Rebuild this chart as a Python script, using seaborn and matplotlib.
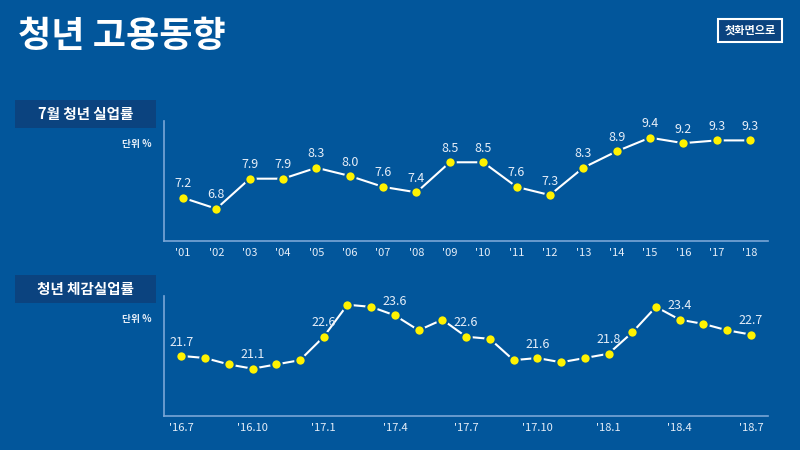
import pandas as pd
import seaborn as sns
import matplotlib.pyplot as plt
from matplotlib.patches import Rectangle

# values
years = ["'01", "'02", "'03", "'04", "'05", "'06", "'07", "'08", "'09",
         "'10", "'11", "'12", "'13", "'14", "'15", "'16", "'17", "'18"]
july_rate = [7.2, 6.8, 7.9, 7.9, 8.3, 8.0, 7.6, 7.4, 8.5,
             8.5, 7.6, 7.3, 8.3, 8.9, 9.4, 9.2, 9.3, 9.3]

months = ["'16.7", "'16.8", "'16.9", "'16.10", "'16.11", "'16.12", "'17.1",
          "'17.2", "'17.3", "'17.4", "'17.5", "'17.6", "'17.7", "'17.8",
          "'17.9", "'17.10", "'17.11", "'17.12", "'18.1", "'18.2", "'18.3",
          "'18.4", "'18.5", "'18.6", "'18.7"]
felt_rate = [21.7, 21.6, 21.3, 21.1, 21.3, 21.5, 22.6, 24.1, 24.0, 23.6,
             22.9, 23.4, 22.6, 22.5, 21.5, 21.6, 21.4, 21.6, 21.8, 22.8,
             24.0, 23.4, 23.2, 22.9, 22.7]

bg = "#02569b"
box = "#0b437f"
spine = "#7aa6d6"
txt = "#e6eef8"
yellow = "#fff200"

sns.set_style("dark")
plt.rcParams['font.family'] = ['Noto Sans CJK KR', 'DejaVu Sans']

fig = plt.figure(figsize=(8, 4.5), dpi=100)
fig.patch.set_facecolor(bg)

# title and button
fig.text(18 / 800, 1 - 37 / 450, "청년 고용동향", color="white", fontsize=26,
         fontweight="bold", va="center", ha="left")
fig.patches.append(Rectangle((718 / 800, 1 - 42 / 450), 64 / 800, 23 / 450,
                             transform=fig.transFigure, facecolor=box,
                             edgecolor="white", linewidth=1.5))
fig.text(750 / 800, 1 - 30.5 / 450, "첫화면으로", color="white", fontsize=8,
         fontweight="bold", ha="center", va="center")


def panel(top_px, title, df, xcol, ycol, ticks, labelled, ylim, xlim):
    # section label box
    fig.patches.append(Rectangle((15 / 800, 1 - (top_px - 21 + 28) / 450), 141 / 800, 28 / 450,
                                 transform=fig.transFigure, facecolor=box, edgecolor="none"))
    fig.text(85.5 / 800, 1 - (top_px - 21 + 14) / 450, title, color="white",
             fontsize=10.5, fontweight="bold", ha="center", va="center")
    fig.text(152 / 800, 1 - (top_px + 23) / 450, "단위 %", color=txt, fontsize=7,
             fontweight="bold", ha="right", va="center")

    ax = fig.add_axes([164 / 800, 1 - (top_px + 120) / 450, 604 / 800, 120 / 450])
    ax.set_facecolor(bg)
    sns.lineplot(data=df, x="pos", y=ycol, ax=ax, color="white", linewidth=1.5,
                 marker="o", markersize=7.5, markerfacecolor=yellow,
                 markeredgecolor=bg, markeredgewidth=1.5)
    for i in labelled:
        ax.annotate(f"{df[ycol].iloc[i]:.1f}", (df["pos"].iloc[i], df[ycol].iloc[i]),
                    xytext=(0, 10), textcoords="offset points", ha="center",
                    va="center", color=txt, fontsize=9)
    ax.set_xticks(ticks)
    ax.set_xticklabels(df[xcol].iloc[ticks], color=txt, fontsize=8)
    ax.set_yticks([])
    ax.set_xlim(*xlim)
    ax.set_ylim(*ylim)
    ax.set_xlabel("")
    ax.set_ylabel("")
    ax.grid(False)
    ax.tick_params(axis="x", length=0, pad=5)
    for s in ["top", "right"]:
        ax.spines[s].set_visible(False)
    for s in ["left", "bottom"]:
        ax.spines[s].set_visible(True)
        ax.spines[s].set_color(spine)
        ax.spines[s].set_linewidth(1.2)
    return ax


df1 = pd.DataFrame({"label": years, "rate": july_rate})
df1["pos"] = range(len(df1))
panel(121, "7월 청년 실업률", df1, "label", "rate", list(range(len(years))),
      list(range(len(years))), (5.62, 10.01), (-0.57, 17.54))

df2 = pd.DataFrame({"label": months, "rate": felt_rate})
df2["pos"] = range(len(df2))
panel(296, "청년 체감실업률", df2, "label", "rate", list(range(0, 25, 3)),
      list(range(0, 25, 3)), (18.88, 24.51), (-0.73, 24.72))

fig.savefig("out.png", dpi=100, facecolor=bg)
